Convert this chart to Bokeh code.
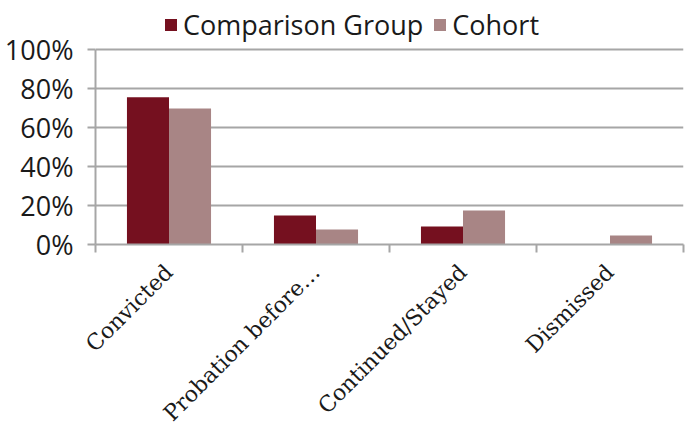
from bokeh.plotting import figure
from bokeh.models import Legend, LegendItem, FixedTicker, Range1d, ColumnDataSource
from bokeh.embed import file_html
from bokeh.resources import INLINE
import math

categories = ["Convicted", "Probation before\u2026", "Continued/Stayed", "Dismissed"]
comparison = [0.755, 0.149, 0.092, 0.0]
cohort = [0.697, 0.077, 0.174, 0.046]
series_names = ["Comparison Group", "Cohort"]
colors = ["#75101F", "#A88585"]
y_ticks = [0, 0.2, 0.4, 0.6, 0.8, 1.0]
y_labels = ["0%", "20%", "40%", "60%", "80%", "100%"]

n = len(categories)
centers = [i + 0.5 for i in range(n)]
bw = 0.286
GRAY = "#A6A6A6"
TXT = "#1a1a1a"

# frame extends above 100% to leave room for the legend
p = figure(frame_width=588, frame_height=244, output_backend="svg", toolbar_location=None,
           x_range=Range1d(0, n), y_range=Range1d(0, 1.0 + 49 / 195),
           min_border_left=95, min_border_right=5, min_border_top=0, min_border_bottom=0)
p.outline_line_color = None

src1 = ColumnDataSource(dict(x=[c - bw / 2 for c in centers], top=comparison))
src2 = ColumnDataSource(dict(x=[c + bw / 2 for c in centers], top=cohort))
r1 = p.vbar(x="x", top="top", width=bw, source=src1, fill_color=colors[0], line_color=None)
r2 = p.vbar(x="x", top="top", width=bw, source=src2, fill_color=colors[1], line_color=None)

p.xgrid.visible = False
p.ygrid.ticker = FixedTicker(ticks=y_ticks)
p.ygrid.grid_line_color = GRAY
p.ygrid.grid_line_width = 2

p.yaxis.ticker = FixedTicker(ticks=y_ticks)
p.yaxis.bounds = (0, 1.0)
p.yaxis.major_label_overrides = {t: l for t, l in zip(y_ticks, y_labels)}
p.yaxis.major_label_text_font = "Open Sans"
p.yaxis.major_label_text_font_size = "27px"
p.yaxis.major_label_text_color = TXT
p.yaxis.axis_line_color = GRAY
p.yaxis.axis_line_width = 2
p.yaxis.major_tick_line_color = GRAY
p.yaxis.major_tick_line_width = 2
p.yaxis.major_tick_out = 8
p.yaxis.major_tick_in = 0
p.yaxis.minor_tick_line_color = None
p.yaxis.major_label_standoff = 14

p.xaxis.ticker = FixedTicker(ticks=centers, minor_ticks=list(range(n + 1)))
p.xaxis.major_label_overrides = {c: l for c, l in zip(centers, categories)}
p.xaxis.major_label_orientation = math.pi / 4
p.xaxis.major_label_text_font = "DejaVu Serif"
p.xaxis.major_label_text_font_size = "22px"
p.xaxis.major_label_text_color = TXT
p.xaxis.major_tick_line_color = None
p.xaxis.minor_tick_line_color = GRAY
p.xaxis.minor_tick_line_width = 2
p.xaxis.minor_tick_out = 8
p.xaxis.minor_tick_in = 0
p.xaxis.axis_line_color = GRAY
p.xaxis.axis_line_width = 2
p.xaxis.major_label_standoff = 16

legend = Legend(items=[LegendItem(label=series_names[0], renderers=[r1]),
                       LegendItem(label=series_names[1], renderers=[r2])],
                orientation="horizontal", location=(68, 201),
                label_text_font="Open Sans", label_text_font_size="27px",
                label_text_color=TXT,
                glyph_width=15, glyph_height=15, label_standoff=5, spacing=9,
                padding=0, margin=0, border_line_color=None, background_fill_alpha=0)
p.add_layout(legend, "center")

open("out.html", "w").write(file_html(p, INLINE))
